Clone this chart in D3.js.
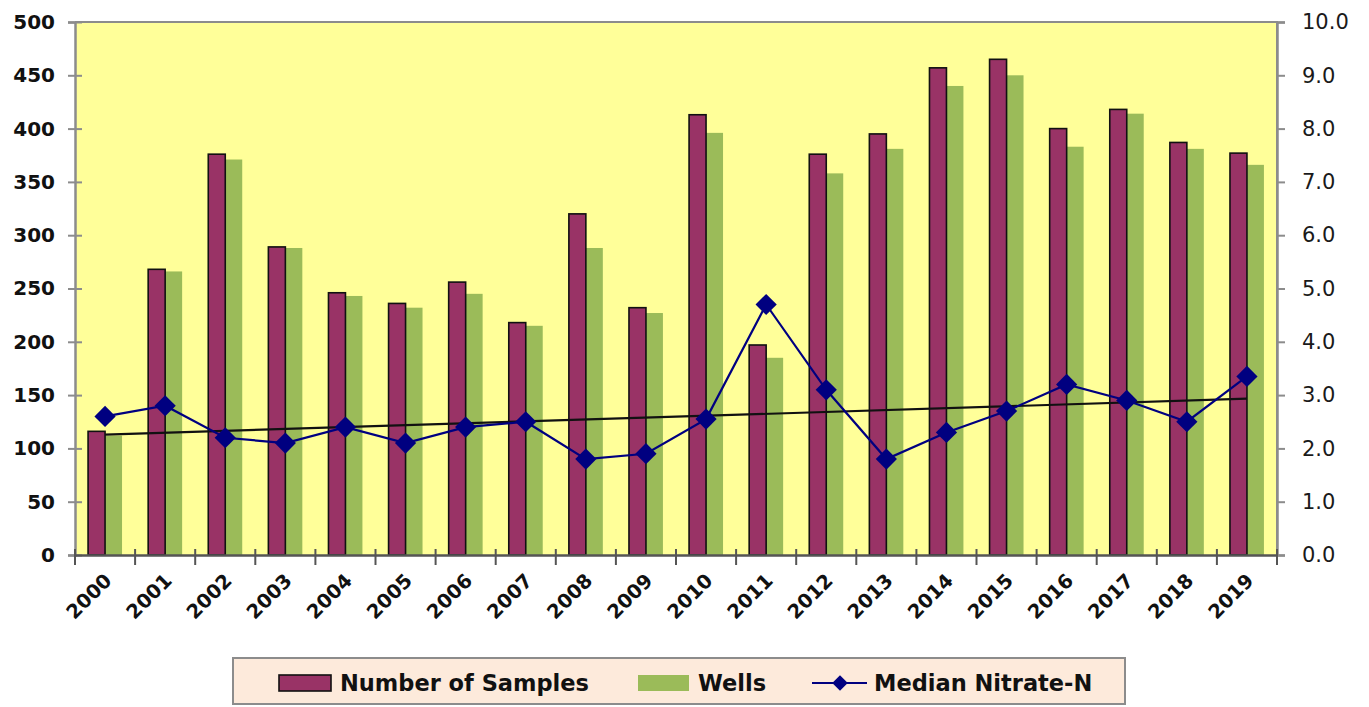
<!DOCTYPE html>
<html>
<head>
<meta charset="utf-8">
<script src="https://cdn.jsdelivr.net/npm/d3@7"></script>
<style>
  html, body { margin: 0; padding: 0; background: #ffffff; }
  svg { display: block; }
</style>
</head>
<body>
<svg id="chart" width="1369" height="707"></svg>
<script>
// Annual sampling summary: sample counts, wells sampled and median nitrate-N
const years = ["2000","2001","2002","2003","2004","2005","2006","2007","2008","2009",
               "2010","2011","2012","2013","2014","2015","2016","2017","2018","2019"];
const samples = [116, 268, 376, 289, 246, 236, 256, 218, 320, 232,
                 413, 197, 376, 395, 457, 465, 400, 418, 387, 377];
const wells   = [112, 266, 371, 288, 243, 232, 245, 215, 288, 227,
                 396, 185, 358, 381, 440, 450, 383, 414, 381, 366];
const medianN = [2.6, 2.8, 2.2, 2.1, 2.4, 2.1, 2.4, 2.5, 1.8, 1.9,
                 2.55, 4.7, 3.1, 1.8, 2.3, 2.7, 3.2, 2.9, 2.5, 3.35];
const leftTicks  = [0, 50, 100, 150, 200, 250, 300, 350, 400, 450, 500];
const rightTicks = [0, 1, 2, 3, 4, 5, 6, 7, 8, 9, 10];
const seriesNames = ["Number of Samples", "Wells", "Median Nitrate-N"];

const colors = {
  samples: "#993366",
  wells: "#9bbb59",
  median: "#000080",
  plotBg: "#ffff99",
  axis: "#8c8c8c",
  legendBg: "#fdeadb"
};

const svg = d3.select("#chart");
const plot = { left: 75, right: 1277, top: 22, bottom: 555 };

const x = d3.scaleBand().domain(years).range([plot.left, plot.right]).padding(0);
const xSub = d3.scaleBand().domain(["samples", "wells"])
  .range([0, x.bandwidth()]).paddingInner(0).paddingOuter(0.77);
const yL = d3.scaleLinear().domain([0, 500]).range([plot.bottom, plot.top]);
const yR = d3.scaleLinear().domain([0, 10]).range([plot.bottom, plot.top]);

// plot area
svg.append("rect")
  .attr("x", plot.left).attr("y", plot.top)
  .attr("width", plot.right - plot.left).attr("height", plot.bottom - plot.top)
  .attr("fill", colors.plotBg);

// bars
const groups = svg.append("g").selectAll("g")
  .data(years.map((yr, i) => ({ yr, s: samples[i], w: wells[i] })))
  .join("g")
  .attr("transform", d => `translate(${x(d.yr)},0)`);

groups.append("rect")
  .attr("x", xSub("wells"))
  .attr("width", xSub.bandwidth())
  .attr("y", d => yL(d.w))
  .attr("height", d => yL(0) - yL(d.w))
  .attr("fill", colors.wells);

groups.append("rect")
  .attr("x", xSub("samples"))
  .attr("width", xSub.bandwidth())
  .attr("y", d => yL(d.s))
  .attr("height", d => yL(0) - yL(d.s))
  .attr("fill", colors.samples)
  .attr("stroke", "#111")
  .attr("stroke-width", 1.6);

// frame on top and right
svg.append("path")
  .attr("d", `M${plot.left},${plot.top}H${plot.right}V${plot.bottom}`)
  .attr("fill", "none").attr("stroke", colors.axis).attr("stroke-width", 2);

// left axis
const axL = svg.append("g").attr("transform", `translate(${plot.left},0)`)
  .call(d3.axisLeft(yL).tickValues(leftTicks).tickSize(7).tickPadding(13).tickFormat(d3.format("d")));
axL.select(".domain").attr("stroke", colors.axis).attr("stroke-width", 2.5);
axL.selectAll(".tick line").attr("stroke", colors.axis).attr("stroke-width", 2).attr("x2", -7).attr("x1", 7);
axL.selectAll(".tick text")
  .attr("font-family", "DejaVu Sans, Verdana, sans-serif")
  .attr("font-weight", "bold").attr("font-size", 20).attr("fill", "#111");

// right axis
const axR = svg.append("g").attr("transform", `translate(${plot.right},0)`)
  .call(d3.axisRight(yR).tickValues(rightTicks).tickSize(8).tickPadding(17).tickFormat(d3.format(".1f")));
axR.select(".domain").attr("stroke", colors.axis).attr("stroke-width", 2.5);
axR.selectAll(".tick line").attr("stroke", colors.axis).attr("stroke-width", 2);
axR.selectAll(".tick text")
  .attr("font-family", "DejaVu Sans, Verdana, sans-serif")
  .attr("font-size", 21).attr("fill", "#1a1a1a");

// x axis with ticks between categories
const axB = svg.append("g").attr("transform", `translate(0,${plot.bottom})`)
  .call(d3.axisBottom(x).tickSize(0).tickFormat(""));
axB.select(".domain").attr("stroke", "#555").attr("stroke-width", 2.5);
const boundaries = years.map(yr => x(yr)).concat([plot.right]);
axB.selectAll("line.sep").data(boundaries).join("line")
  .attr("class", "sep")
  .attr("x1", d => d).attr("x2", d => d)
  .attr("y1", -6).attr("y2", 10)
  .attr("stroke", "#555").attr("stroke-width", 2);
axB.selectAll("text.yr").data(years).join("text")
  .attr("class", "yr")
  .attr("transform", d => `translate(${x(d) + x.bandwidth() / 2 + 3},${22}) rotate(-45)`)
  .attr("text-anchor", "end")
  .attr("dy", "0.35em")
  .attr("font-family", "DejaVu Sans, Verdana, sans-serif")
  .attr("font-weight", "bold").attr("font-size", 19.5).attr("fill", "#111")
  .text(d => d);

// linear trend of the median series
const n = medianN.length;
const xi = d3.range(n);
const mx = d3.mean(xi), my = d3.mean(medianN);
const slope = d3.sum(xi, i => (i - mx) * (medianN[i] - my)) / d3.sum(xi, i => (i - mx) * (i - mx));
const icpt = my - slope * mx;
const cx = yr => x(yr) + x.bandwidth() / 2;
svg.append("line")
  .attr("x1", cx(years[0])).attr("y1", yR(icpt))
  .attr("x2", cx(years[n - 1])).attr("y2", yR(icpt + slope * (n - 1)))
  .attr("stroke", "#111").attr("stroke-width", 2.2);

// median nitrate line with diamond markers
const line = d3.line().x((d, i) => cx(years[i])).y(d => yR(d));
svg.append("path").datum(medianN)
  .attr("d", line).attr("fill", "none")
  .attr("stroke", colors.median).attr("stroke-width", 2.2);
const diamond = d3.symbol(d3.symbolSquare, 225);
svg.append("g").selectAll("path").data(medianN).join("path")
  .attr("d", diamond)
  .attr("transform", (d, i) => `translate(${cx(years[i])},${yR(d)}) rotate(45)`)
  .attr("fill", colors.median);

// legend
const lg = svg.append("g");
lg.append("rect").attr("x", 233).attr("y", 658).attr("width", 892).attr("height", 46)
  .attr("fill", colors.legendBg).attr("stroke", "#8c8c8c").attr("stroke-width", 2);
const ltxt = (xp, t) => lg.append("text").attr("x", xp).attr("y", 691)
  .attr("font-family", "DejaVu Sans, Verdana, sans-serif")
  .attr("font-weight", "bold").attr("font-size", 22.5).attr("fill", "#111").text(t);
lg.append("rect").attr("x", 279).attr("y", 675).attr("width", 52).attr("height", 16)
  .attr("fill", colors.samples).attr("stroke", "#111").attr("stroke-width", 1.6);
ltxt(340, seriesNames[0]);
lg.append("rect").attr("x", 638).attr("y", 675).attr("width", 51).attr("height", 16)
  .attr("fill", colors.wells);
ltxt(698, seriesNames[1]);
lg.append("line").attr("x1", 812).attr("x2", 867).attr("y1", 683).attr("y2", 683)
  .attr("stroke", colors.median).attr("stroke-width", 2.2);
lg.append("path").attr("d", d3.symbol(d3.symbolSquare, 120))
  .attr("transform", "translate(840,683) rotate(45)").attr("fill", colors.median);
ltxt(874, seriesNames[2]);
</script>
</body>
</html>
